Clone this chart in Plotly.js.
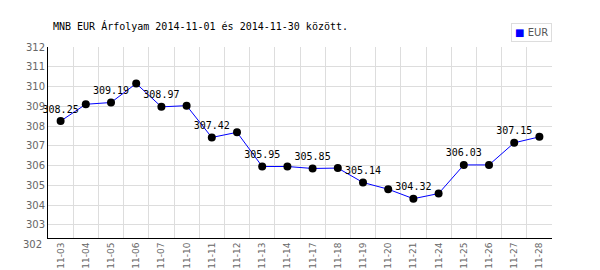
<!DOCTYPE html>
<html>
<head>
<meta charset="utf-8">
<script src="https://cdn.plot.ly/plotly-3.0.1.min.js"></script>
<style>html,body{margin:0;padding:0;background:#fff;}#chart{width:600px;height:270px;}</style>
</head>
<body>
<div id="chart"></div>
<script>
var dates = ["11-03","11-04","11-05","11-06","11-07","11-10","11-11","11-12","11-13","11-14",
             "11-17","11-18","11-19","11-20","11-21","11-24","11-25","11-26","11-27","11-28"];
var eur = [308.25,309.10,309.19,310.15,308.97,309.03,307.42,307.68,305.95,305.95,
           305.85,305.87,305.14,304.80,304.32,304.58,306.03,306.03,307.15,307.45];
var labelEvery = 2;
var yTicks = [302,303,304,305,306,307,308,309,310,311,312];
var yRange = [302.33, 312];
var titleText = "MNB EUR Árfolyam 2014-11-01 és 2014-11-30 között.";
var seriesName = "EUR";

var labels = eur.map(function(v,i){ return i % labelEvery === 0 ? v.toFixed(2) : ""; });
var mono = "DejaVu Sans Mono";
var mT = 47, mB = 32, H = 270, plotH = H - mT - mB;

var traces = [
  {
    x: dates, y: eur, type: "scatter", mode: "lines+markers+text", name: seriesName,
    text: labels, textposition: "top center",
    textfont: {family: mono, size: 10, color: "#000"},
    line: {color: "#0000ff", width: 1},
    marker: {color: "#000", size: 8},
    cliponaxis: false,
    showlegend: false, hoverinfo: "none"
  }
];

var bottomTick = yTicks[0];
var annots = [
  {
    xref: "paper", yref: "paper", x: 0, y: (bottomTick - yRange[0])/(yRange[1]-yRange[0]),
    xanchor: "right", yanchor: "middle", xshift: -4, showarrow: false,
    text: String(bottomTick), font: {family: "DejaVu Sans", size: 10, color: "#666"}
  },
  {
    xref: "paper", yref: "paper", x: 1, y: 1 + (mT - 32)/plotH, xanchor: "right", yanchor: "middle",
    showarrow: false, bordercolor: "#dddddd", borderwidth: 1, borderpad: 3, bgcolor: "#fff",
    text: '<span style="color:#0000ff">■</span> ' + seriesName,
    font: {family: "DejaVu Sans", size: 10, color: "#555"}
  }
];

var layout = {
  width: 600, height: H,
  margin: {l: 48, r: 48, t: mT, b: mB},
  paper_bgcolor: "#fff", plot_bgcolor: "#fff",
  title: {text: titleText, xref: "container", yref: "container", x: 53/600, xanchor: "left",
          y: 1 - 26/270, yanchor: "middle", font: {family: mono, size: 10, color: "#000"}},
  xaxis: {
    type: "category", range: [-0.5, dates.length - 0.5], tickson: "boundaries",
    showgrid: true, gridcolor: "#dddddd", gridwidth: 1,
    showline: true, linecolor: "#000", linewidth: 1,
    ticks: "", tickangle: -90, automargin: false,
    tickfont: {family: "DejaVu Sans", size: 9, color: "#666"},
    zeroline: false, fixedrange: true
  },
  yaxis: {
    range: yRange, tickvals: yTicks, ticktext: yTicks.map(String),
    showgrid: true, gridcolor: "#dddddd", gridwidth: 1,
    showline: true, linecolor: "#000", linewidth: 1,
    ticks: "", automargin: false, zeroline: false,
    tickfont: {family: "DejaVu Sans", size: 10, color: "#666"}, fixedrange: true
  },
  annotations: annots,
  showlegend: false
};

Plotly.newPlot("chart", traces, layout, {staticPlot: true, displayModeBar: false});
</script>
</body>
</html>
